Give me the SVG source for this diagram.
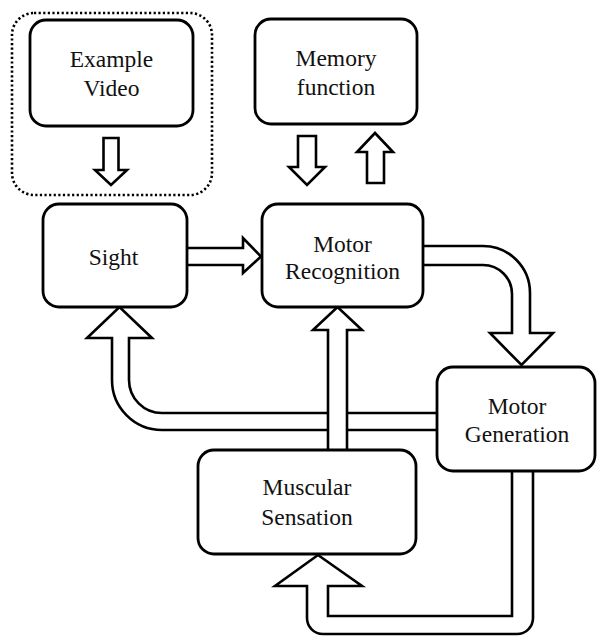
<svg xmlns="http://www.w3.org/2000/svg" width="597" height="636" viewBox="0 0 597 636">
<style>
.box{fill:#fff;stroke:#000;stroke-width:2.8}
.arr{fill:#fff;stroke:#000;stroke-width:2.6;stroke-linejoin:miter}
.grp{fill:none;stroke:#000;stroke-width:2.6;stroke-dasharray:2.2 2.4}
.t{font-family:'Liberation Serif','DejaVu Serif',serif;font-size:23.5px;fill:#111;text-anchor:middle}
</style>
<rect width="597" height="636" fill="#fff"/>
<g id="group-example">
<rect class="grp" x="12" y="13" width="200" height="182" rx="22"/>
</g>
<g id="connectors">
<path class="arr" d="M103.5,138 H118.5 V170 H127 L111,185 L95,170 H103.5 Z"/>
<path class="arr" d="M298,136 H316 V167 H325 L307,185 L289,167 H298 Z"/>
<path class="arr" d="M367,183 V152 H357 L375,133 L393,152 H384 V183 Z"/>
<path class="arr" d="M187,248 H243 V238 L261,256.5 L243,273 V265 H187"/>
<path class="arr" d="M423,246 H483 A47,47 0 0 1 530,293 V333 H553 L521.5,365 L490,333 H512 V294 A29,29 0 0 0 483,265 H423"/>
<path class="arr" d="M437,413 H162 A33,33 0 0 1 129,380 V338 H152 L119.5,307 L87,338 H112 V380 A50,50 0 0 0 162,430 H437"/>
<path class="arr" d="M328,450 V330 H313 L337.5,307 L362,330 H347 V450"/>
<path class="arr" d="M512,471 V616 H328 V586 H362 L318,555 L275,586 H307 V618 A16,16 0 0 0 323,634 H517 A16,16 0 0 0 533,618 V471"/>
</g>
<g id="example-video">
<rect class="box" x="30" y="20" width="163" height="106" rx="16"/>
<text class="t" x="111.5" y="67">Example</text>
<text class="t" x="111.5" y="96">Video</text>
</g>
<g id="memory-function">
<rect class="box" x="255" y="19" width="162" height="105" rx="16"/>
<text class="t" x="336" y="66">Memory</text>
<text class="t" x="336" y="95">function</text>
</g>
<g id="sight">
<rect class="box" x="43" y="204" width="144" height="103" rx="16"/>
<text class="t" x="113.5" y="265">Sight</text>
</g>
<g id="motor-recognition">
<rect class="box" x="262" y="204" width="161" height="103" rx="16"/>
<text class="t" x="342.5" y="252">Motor</text>
<text class="t" x="342.5" y="279">Recognition</text>
</g>
<g id="motor-generation">
<rect class="box" x="437" y="367" width="158" height="104" rx="16"/>
<text class="t" x="517" y="414">Motor</text>
<text class="t" x="517" y="442">Generation</text>
</g>
<g id="muscular-sensation">
<rect class="box" x="198" y="450" width="218" height="104" rx="16"/>
<text class="t" x="307" y="495">Muscular</text>
<text class="t" x="307" y="525">Sensation</text>
</g>
</svg>
